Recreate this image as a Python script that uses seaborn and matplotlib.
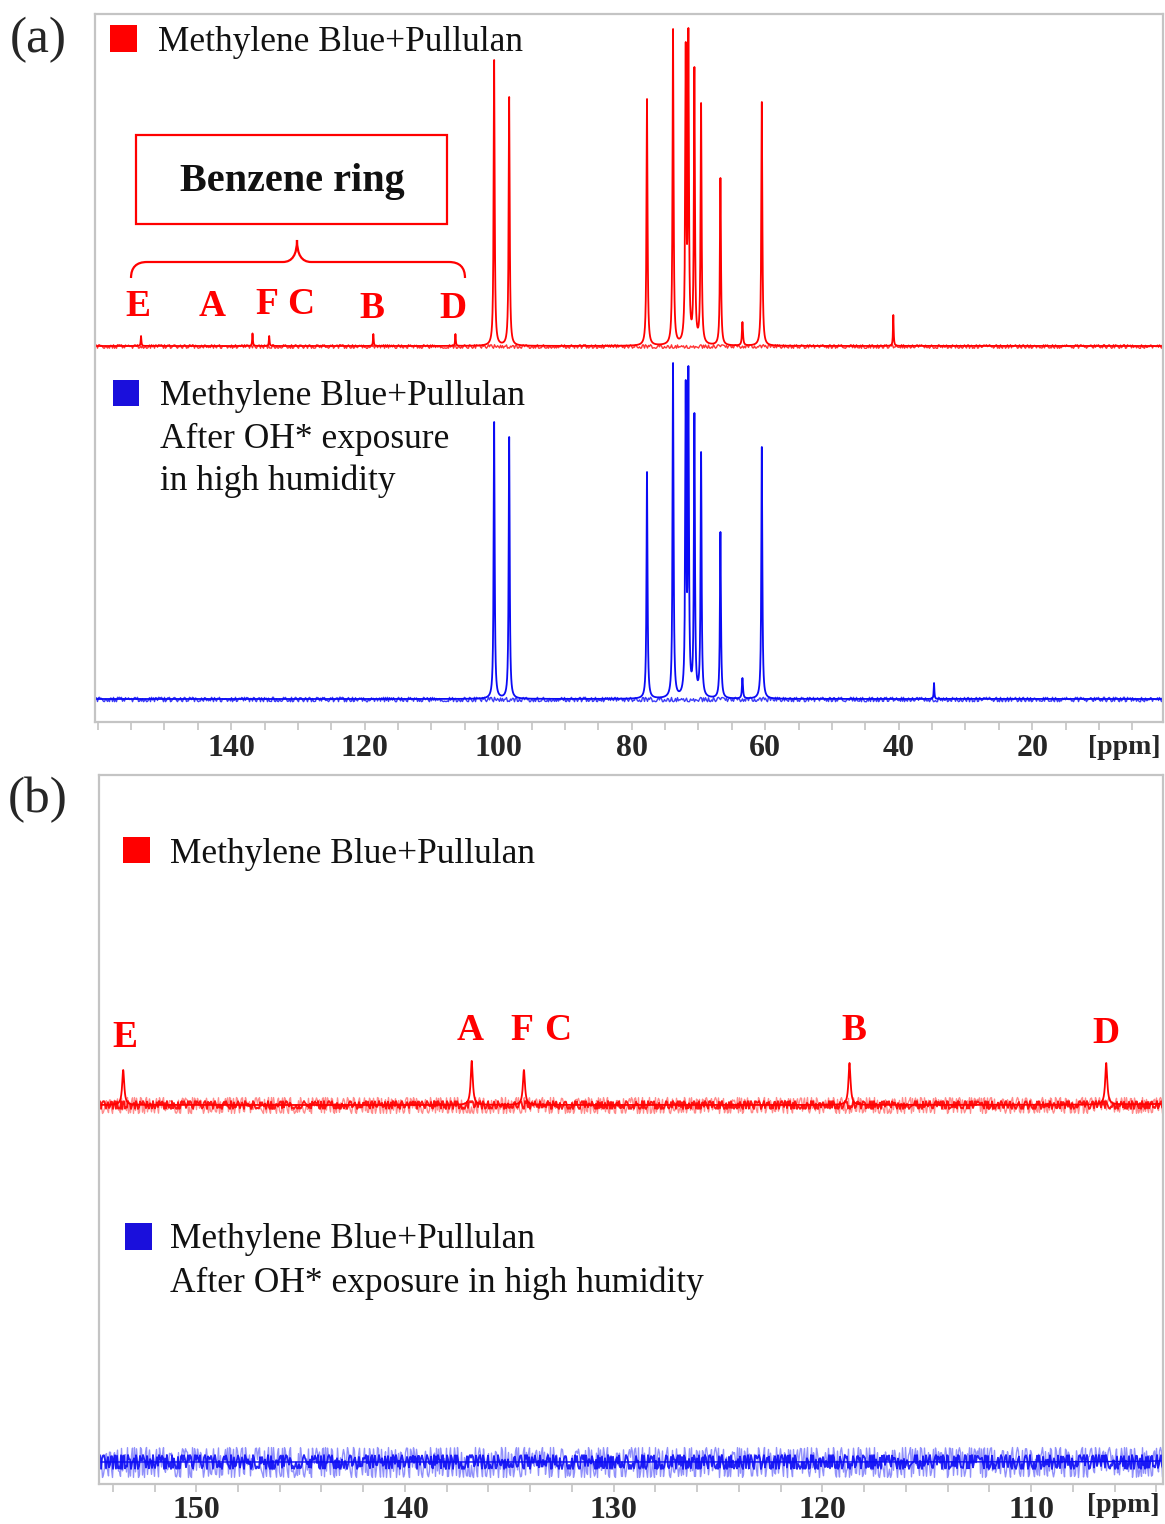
import numpy as np
import pandas as pd
import matplotlib
matplotlib.use("Agg")
import matplotlib.pyplot as plt
import seaborn as sns
from matplotlib.patches import Rectangle, PathPatch
from matplotlib.path import Path
from matplotlib.ticker import FixedLocator, MultipleLocator
from matplotlib.transforms import blended_transform_factory

# ---------------------------------------------------------------------------
# 13C NMR peak lists (chemical shift in ppm, apex intensity in arbitrary units)
# ---------------------------------------------------------------------------
# pullulan backbone carbons
pullulan_shift = [100.6, 98.35, 77.7, 73.8, 71.9, 71.5, 70.6, 69.6, 66.7, 63.4, 60.5]
pullulan_height_mb = [286, 249, 247, 317, 304, 318, 279, 243, 168, 24, 244]
pullulan_height_oh = [277, 262, 227, 336, 319, 333, 286, 247, 167, 21, 252]

# small extra signals
extra_shift_mb = [40.8]
extra_height_mb = [31]
extra_shift_oh = [34.7]
extra_height_oh = [16]

# methylene blue aromatic (benzene ring) carbons, only before exposure
ring_labels = ["E", "A", "F", "B", "D"]
ring_shift = [153.5, 136.8, 134.3, 118.7, 106.4]
ring_height = [10.0, 12.6, 10.0, 12.0, 12.0]

# axis ticks
ticks_a = [140, 120, 100, 80, 60, 40, 20]
ticks_b = [150, 140, 130, 120, 110]

# vertical expansion used for the aromatic region plot
expand_b = 3.5

RED = "#ff0000"
BLUE = "#0b0bf5"
RED_SQ = "#ff0000"
BLUE_SQ = "#1a0fdc"
FRAME = "#c4c4c4"

ppm = np.round(np.arange(0.0, 161.0, 0.005), 3)


def lorentz(x, s, w):
    return w ** 2 / ((x - s) ** 2 + w ** 2)


def spectrum(shifts, apex, widths):
    """Sum of Lorentzians whose summed apex values equal the listed heights."""
    shifts = np.asarray(shifts, float)
    widths = np.asarray(widths, float)
    A = lorentz(shifts[:, None], shifts[None, :], widths[None, :])
    amp = np.linalg.solve(A, np.asarray(apex, float))
    y = np.zeros_like(ppm)
    for s, a, w in zip(shifts, amp, widths):
        y += a * lorentz(ppm, s, w)
    return y


W_MAIN, W_THIN = 0.09, 0.06
mb = spectrum(pullulan_shift + extra_shift_mb + ring_shift,
              pullulan_height_mb + extra_height_mb + ring_height,
              [W_MAIN] * len(pullulan_shift) + [W_THIN] * (len(extra_shift_mb) + len(ring_shift)))
oh = spectrum(pullulan_shift + extra_shift_oh,
              pullulan_height_oh + extra_height_oh,
              [W_MAIN] * len(pullulan_shift) + [W_THIN] * len(extra_shift_oh))

spec = pd.DataFrame({"ppm": ppm, "mb": mb, "oh": oh})

# ---------------------------------------------------------------------------
sns.set_theme(style="white")
plt.rcParams["font.family"] = ["Liberation Serif", "DejaVu Serif"]

W, H = 1165, 1524
fig = plt.figure(figsize=(W / 100, H / 100), dpi=100)
fig.patch.set_facecolor("white")


def fx(x):
    return x / W


def fy(y):
    return 1 - y / H


ax_a = fig.add_axes([fx(95), fy(722), (1163 - 95) / W, (722 - 14) / H])
ax_b = fig.add_axes([fx(99), fy(1484), (1163 - 99) / W, (1484 - 775) / H])

OFF_A_RED, OFF_A_BLUE = 376, 23
OFF_B_RED, OFF_B_BLUE = 379, 22


def noise_line(ax, level, color, scale, length, lw, alpha=1.0):
    sns.lineplot(x=[ppm.min(), ppm.max()], y=[level, level], ax=ax,
                 color=color, lw=lw, alpha=alpha, estimator=None)
    ax.lines[-1].set_sketch_params(scale=scale, length=length, randomness=3)


# ----- panel (a): full range -----
noise_line(ax_a, OFF_A_RED, RED, 1.8, 2.5, 1.0, 0.8)
noise_line(ax_a, OFF_A_BLUE, BLUE, 2.2, 2.5, 1.0, 0.8)
sns.lineplot(x=spec["ppm"], y=spec["mb"] + OFF_A_RED, ax=ax_a, color=RED,
             lw=1.3, estimator=None, sort=False)
sns.lineplot(x=spec["ppm"], y=spec["oh"] + OFF_A_BLUE, ax=ax_a, color=BLUE,
             lw=1.3, estimator=None, sort=False)
ax_a.set_xlim(160.4, 0.4)
ax_a.set_ylim(0, 708)

# ----- panel (b): aromatic region, expanded -----
sel = (spec["ppm"] >= 103) & (spec["ppm"] <= 156)
noise_line(ax_b, OFF_B_BLUE, BLUE, 15, 4.0, 1.0, 0.45)
noise_line(ax_b, OFF_B_BLUE, BLUE, 7, 3.5, 1.3, 0.9)
noise_line(ax_b, OFF_B_RED, RED, 8, 4.0, 1.0, 0.45)
noise_line(ax_b, OFF_B_RED, RED, 4, 3.5, 1.3, 0.9)
sns.lineplot(x=spec.loc[sel, "ppm"], y=spec.loc[sel, "mb"] * expand_b + OFF_B_RED,
             ax=ax_b, color=RED, lw=1.3, estimator=None, sort=False)
sns.lineplot(x=spec.loc[sel, "ppm"], y=spec.loc[sel, "oh"] * expand_b + OFF_B_BLUE,
             ax=ax_b, color=BLUE, lw=1.0, estimator=None, sort=False)
ax_b.set_xlim(154.66, 103.68)
ax_b.set_ylim(0, 709)

for ax, ticks, minor in ((ax_a, ticks_a, 5), (ax_b, ticks_b, 2)):
    ax.set_xlabel("")
    ax.set_ylabel("")
    ax.set_yticks([])
    ax.xaxis.set_major_locator(FixedLocator(ticks))
    ax.xaxis.set_minor_locator(MultipleLocator(minor))
    ax.set_xticklabels([str(t) for t in ticks], fontsize=23, fontweight="bold")
    ax.tick_params(axis="x", which="both", direction="out", length=6, width=1.2,
                   color=FRAME, bottom=True, pad=3)
    for sp in ax.spines.values():
        sp.set_visible(True)
        sp.set_color(FRAME)
        sp.set_linewidth(1.6)

fig.text(fx(1124), fy(747), "[ppm]", fontsize=20, fontweight="bold",
         ha="center", va="center")
fig.text(fx(1123), fy(1506), "[ppm]", fontsize=20, fontweight="bold",
         ha="center", va="center")

# ----- panel letters -----
fig.text(fx(38), fy(40), "(a)", fontsize=37, ha="center", va="center")
fig.text(fx(38), fy(800), "(b)", fontsize=37, ha="center", va="center")


# ----- legends -----
def square(x0, y0, x1, y1, color):
    fig.add_artist(Rectangle((fx(x0), fy(y1)), (x1 - x0) / W, (y1 - y0) / H,
                             transform=fig.transFigure, facecolor=color,
                             edgecolor="none"))


def label(x, y, s):
    fig.text(fx(x), fy(y), s, fontsize=25.5, ha="left", va="baseline",
             color="#111111")


square(110, 25, 137, 52, RED_SQ)
label(158, 51, "Methylene Blue+Pullulan")

square(113, 380, 139, 406, BLUE_SQ)
label(160, 405, "Methylene Blue+Pullulan")
label(160, 448, "After OH* exposure")
label(160, 490, "in high humidity")

square(123, 837, 150, 863, RED_SQ)
label(170, 863, "Methylene Blue+Pullulan")

square(125, 1223, 152, 1250, BLUE_SQ)
label(170, 1248, "Methylene Blue+Pullulan")
label(170, 1292, "After OH* exposure in high humidity")

# ----- benzene ring annotation in panel (a) -----
fig.add_artist(Rectangle((fx(136), fy(224)), (447 - 136) / W, (224 - 135) / H,
                         transform=fig.transFigure, facecolor="white",
                         edgecolor=RED, lw=1.6))
fig.text(fx(292), fy(181), "Benzene ring", fontsize=29, fontweight="bold",
         ha="center", va="center", color="#111111")

brace_pts = [(131, 278), (131, 262), (147, 262),
             (283, 262),
             (297, 262), (297, 240),
             (297, 262), (311, 262),
             (449, 262),
             (465, 262), (465, 278)]
brace_codes = [Path.MOVETO, Path.CURVE3, Path.CURVE3,
               Path.LINETO,
               Path.CURVE3, Path.CURVE3,
               Path.CURVE3, Path.CURVE3,
               Path.LINETO,
               Path.CURVE3, Path.CURVE3]
brace = Path([(fx(x), fy(y)) for x, y in brace_pts], brace_codes)
fig.add_artist(PathPatch(brace, transform=fig.transFigure, facecolor="none",
                         edgecolor=RED, lw=1.6))

letter_kw = dict(fontsize=27, fontweight="bold", color=RED, ha="center", va="center")
for s, x, y in (("E", 138, 306), ("A", 212, 306), ("F", 267, 305),
                ("C", 301, 305), ("B", 372, 309), ("D", 453, 309)):
    fig.text(fx(x), fy(y), s, **letter_kw)

# ----- peak letters in panel (b) -----
tb = blended_transform_factory(ax_b.transData, ax_b.transAxes)
letter_pos_b = {"E": (153.4, 0.630), "A": (136.9, 0.640), "F": (134.4, 0.640),
                "C": (132.7, 0.640), "B": (118.5, 0.640), "D": (106.4, 0.636)}
for s, (x, y) in letter_pos_b.items():
    ax_b.text(x, y, s, transform=tb, **letter_kw)

fig.savefig("out.png", dpi=100, facecolor="white")
